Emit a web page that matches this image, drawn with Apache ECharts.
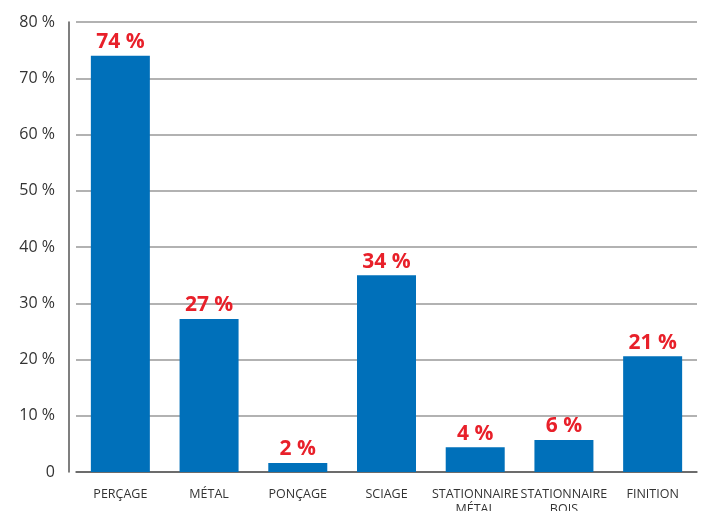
<!DOCTYPE html>
<html>
<head>
<meta charset="utf-8">
<script src="https://cdn.jsdelivr.net/npm/echarts@6/dist/echarts.min.js"></script>
<style>html,body{margin:0;padding:0;background:#fff;}#c{width:703px;height:511px;}</style>
</head>
<body>
<div id="c"></div>
<script>
const categories = ['PERÇAGE', 'MÉTAL', 'PONÇAGE', 'SCIAGE', 'STATIONNAIRE\nMÉTAL', 'STATIONNAIRE\nBOIS', 'FINITION'];
const values = [74, 27.2, 1.6, 35, 4.4, 5.7, 20.6];
const valueLabels = ['74 %', '27 %', '2 %', '34 %', '4 %', '6 %', '21 %'];
const yTicks = [0, 10, 20, 30, 40, 50, 60, 70, 80];

const chart = echarts.init(document.getElementById('c'), null, {renderer: 'canvas'});
chart.setOption({
  animation: false,
  grid: {left: 76, right: 6, top: 22, bottom: 39, containLabel: false, outerBoundsMode: 'none'},
  xAxis: {
    type: 'category',
    data: categories,
    axisLine: {show: true, lineStyle: {color: '#555', width: 1.5}},
    axisTick: {show: false},
    axisLabel: {color: '#333', fontSize: 12.5, fontFamily: 'Open Sans', margin: 15, lineHeight: 15, interval: 0}
  },
  yAxis: {
    type: 'value',
    min: 0, max: 80, interval: 10,
    offset: 7,
    axisLine: {show: true, lineStyle: {color: '#555', width: 1.5}},
    axisTick: {show: false},
    splitLine: {lineStyle: {color: '#999', width: 1.5}},
    axisLabel: {
      color: '#333', fontSize: 16, fontFamily: 'Open Sans', margin: 14,
      formatter: v => yTicks.includes(v) ? (v === 0 ? '0' : v + ' %') : ''
    }
  },
  series: [{
    type: 'bar',
    data: values,
    barWidth: 59,
    itemStyle: {color: '#0070BA'},
    label: {
      show: true, position: 'top', distance: 3,
      color: '#E8202A', fontSize: 21, fontWeight: 'bold', fontFamily: 'Open Sans',
      formatter: p => valueLabels[p.dataIndex]
    }
  }]
});
</script>
</body>
</html>
